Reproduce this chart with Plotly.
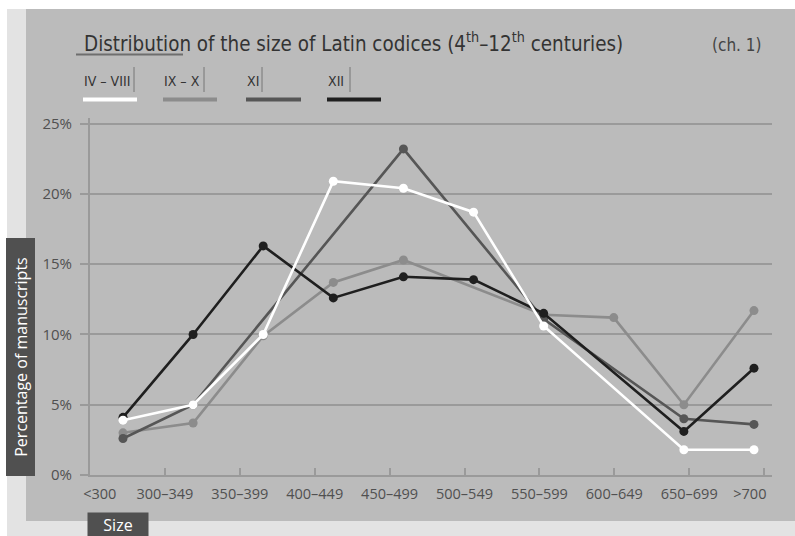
import plotly.graph_objects as go

# ---------------- data ----------------
categories = ["<300", "300–349", "350–399", "400–449", "450–499",
              "500–549", "550–599", "600–649", "650–699", ">700"]
series_names = ["IV – VIII", "IX – X", "XI", "XII"]
iv_viii = [3.9, 5.0, 10.0, 20.9, 20.4, 18.7, 10.6, None, 1.8, 1.8]
ix_x = [3.0, 3.7, 9.9, 13.7, 15.3, None, 11.4, 11.2, 5.0, 11.7]
xi = [2.6, 5.0, None, None, 23.2, None, 11.1, None, 4.0, 3.6]
xii = [4.1, 10.0, 16.3, 12.6, 14.1, 13.9, 11.5, None, 3.1, 7.6]
y_ticks = [0, 5, 10, 15, 20, 25]
y_ticklabels = ["0%", "5%", "10%", "15%", "20%", "25%"]

# ---------------- style ----------------
W, H = 795, 536
L, R, T, B = 90, 23, 118, 61
PW, PH = W - L - R, H - T - B
colors = {"IV – VIII": "#ffffff", "IX – X": "#8c8c8c", "XI": "#565656", "XII": "#1f1f1f"}
PANEL = "#bbbbbb"
OUTER = "#e3e3e3"
GRID = "#9a9a9a"
COND = "DejaVu Sans Condensed, Liberation Sans Narrow, Arial Narrow, sans-serif"
SANS = "Open Sans, Noto Sans, sans-serif"


def px_x(px):
    return (px - L) / PW


def px_y(py):
    return (H - B - py) / PH


fig = go.Figure()
# empty trace so that the label axis (x) is drawn
fig.add_trace(go.Scatter(x=[None], y=[None], xaxis="x", yaxis="y", mode="markers",
                         showlegend=False, hoverinfo="skip"))
values = {"IV – VIII": iv_viii, "IX – X": ix_x, "XI": xi, "XII": xii}
for name in ["IX – X", "XI", "XII", "IV – VIII"]:
    fig.add_trace(go.Scatter(
        x=categories, y=values[name], name=name, xaxis="x2", yaxis="y",
        mode="lines+markers", connectgaps=True,
        line=dict(color=colors[name], width=2.6),
        marker=dict(color=colors[name], size=9),
        showlegend=False, hoverinfo="skip"))

# label axis: ticks spaced differently from data positions
label_pos = [0.13] + list(range(1, 9)) + [8.81]
fig.update_layout(
    width=W, height=H, autosize=False,
    margin=dict(l=L, r=R, t=T, b=B, pad=0),
    paper_bgcolor="#ffffff", plot_bgcolor="rgba(0,0,0,0)",
    xaxis=dict(range=[0, PW / 74.9], tickmode="array", tickvals=label_pos,
               ticktext=categories, ticks="", showgrid=False, zeroline=False,
               showline=True, linecolor=GRID, linewidth=2,
               tickfont=dict(family=SANS, size=14.5, color="#505050"),
               ticklabelstandoff=5,
               minor=dict(tickmode="array", tickvals=list(range(1, 10)),
                          ticks="inside", ticklen=7, tickwidth=1.5, tickcolor=GRID),
               fixedrange=True),
    xaxis2=dict(type="category", categoryorder="array", categoryarray=categories,
                range=[-0.4707, 9.257], overlaying="x", visible=False, fixedrange=True),
    yaxis=dict(range=[0, 25.4], tickmode="array", tickvals=y_ticks,
               ticktext=y_ticklabels, showgrid=True, gridcolor=GRID, gridwidth=2,
               zeroline=False, showline=True, linecolor=GRID, linewidth=2,
               ticks="outside", ticklen=8, tickcolor=GRID, tickwidth=2,
               ticklabelstandoff=5,
               tickfont=dict(family=SANS, size=15, color="#505050"),
               fixedrange=True),
)

shapes = []
# backgrounds
shapes.append(dict(type="rect", xref="paper", yref="paper", layer="below",
                   x0=px_x(7), x1=px_x(W + 2), y0=px_y(H + 2), y1=px_y(9),
                   fillcolor=OUTER, line=dict(width=0)))
shapes.append(dict(type="rect", xref="paper", yref="paper", layer="below",
                   x0=px_x(26), x1=px_x(W + 2), y0=px_y(521), y1=px_y(9),
                   fillcolor=PANEL, line=dict(width=0)))
# title underline
shapes.append(dict(type="line", xref="paper", yref="paper",
                   x0=px_x(76), x1=px_x(183), y0=px_y(54.5), y1=px_y(54.5),
                   line=dict(color="#6e6e6e", width=2)))

annotations = []
annotations.append(dict(
    text="Distribution of the size of Latin codices (4<sup>th</sup>–12<sup>th</sup> centuries)",
    xref="paper", yref="paper", x=px_x(82), y=px_y(42), xanchor="left", yanchor="middle",
    showarrow=False, font=dict(family=COND, size=20.4, color="#333333")))
annotations.append(dict(
    text="(ch. 1)", xref="paper", yref="paper", x=px_x(763), y=px_y(45),
    xanchor="right", yanchor="middle", showarrow=False,
    font=dict(family=COND, size=17, color="#444444")))

# legend (custom)
legend_x = {"IV – VIII": (83, 134, 137), "IX – X": (163, 204, 217),
            "XI": (246, 262, 301), "XII": (327, 350, 381)}
for name in series_names:
    x0, bar, x1 = legend_x[name]
    annotations.append(dict(text=name, xref="paper", yref="paper", x=px_x(x0 - 1),
                            y=px_y(81.5), xanchor="left", yanchor="middle",
                            showarrow=False,
                            font=dict(family=COND, size=14, color="#333333")))
    shapes.append(dict(type="line", xref="paper", yref="paper",
                       x0=px_x(bar), x1=px_x(bar), y0=px_y(67), y1=px_y(92),
                       line=dict(color="#777777", width=1)))
    shapes.append(dict(type="line", xref="paper", yref="paper",
                       x0=px_x(x0), x1=px_x(x1),
                       y0=px_y(99.5), y1=px_y(99.5),
                       line=dict(color=colors[name], width=4)))

# axis titles in dark boxes
annotations.append(dict(text="Percentage of manuscripts", xref="paper", yref="paper",
                        x=px_x(20), y=px_y(357.5), xanchor="center", yanchor="middle",
                        textangle=-90, showarrow=False, bgcolor="#505050",
                        width=235, height=26,
                        font=dict(family=SANS, size=16, color="#ffffff")))
annotations.append(dict(text="Size", xref="paper", yref="paper",
                        x=px_x(118), y=px_y(524.5), xanchor="center", yanchor="middle",
                        showarrow=False, bgcolor="#505050", width=58, height=21,
                        font=dict(family=SANS, size=16, color="#ffffff")))

fig.update_layout(shapes=shapes, annotations=annotations)
fig.write_html(
    "out.html",
    config={"displayModeBar": False},
    post_script="document.body.style.margin='0';document.body.style.padding='0';",
)
